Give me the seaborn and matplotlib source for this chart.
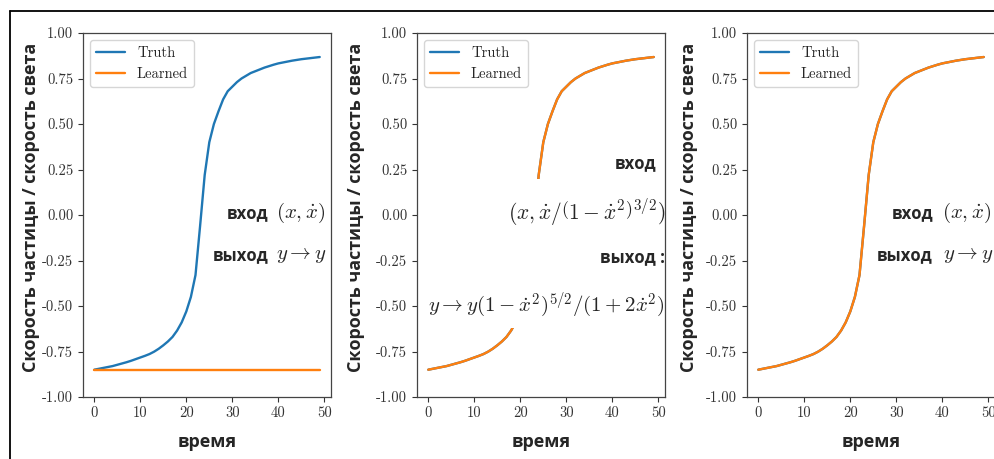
import matplotlib
matplotlib.use('Agg')
import matplotlib.pyplot as plt
import seaborn as sns
from matplotlib.patches import Rectangle
from matplotlib.lines import Line2D
from matplotlib.ticker import FormatStrFormatter

# ---- data ----
time = list(range(50))
truth = [
    -0.850, -0.845, -0.840, -0.835, -0.830, -0.823, -0.816, -0.809, -0.801, -0.792,
    -0.783, -0.774, -0.764, -0.751, -0.735, -0.716, -0.695, -0.670, -0.635, -0.590,
    -0.530, -0.450, -0.330, -0.060, 0.220, 0.400, 0.500, 0.570, 0.635, 0.680,
    0.705, 0.730, 0.750, 0.765, 0.780, 0.790, 0.800, 0.810, 0.818, 0.826,
    0.833, 0.838, 0.843, 0.848, 0.852, 0.856, 0.859, 0.862, 0.865, 0.868,
]
learned_bad = [
    -0.85, -0.85, -0.85, -0.85, -0.85, -0.85, -0.85, -0.85, -0.85, -0.85,
    -0.85, -0.85, -0.85, -0.85, -0.85, -0.85, -0.85, -0.85, -0.85, -0.85,
    -0.85, -0.85, -0.85, -0.85, -0.85, -0.85, -0.85, -0.85, -0.85, -0.85,
    -0.85, -0.85, -0.85, -0.85, -0.85, -0.85, -0.85, -0.85, -0.85, -0.85,
    -0.85, -0.85, -0.85, -0.85, -0.85, -0.85, -0.85, -0.85, -0.85, -0.85,
]
learned_good = list(truth)  # learned curve sits on top of the truth

y_ticks = [-1.0, -0.75, -0.5, -0.25, 0.0, 0.25, 0.5, 0.75, 1.0]
x_ticks = [0, 10, 20, 30, 40, 50]
y_label = 'Скорость частицы / скорость света'
x_label = 'время'

sns.set_style('ticks')
plt.rcParams['font.family'] = ['cmr10', 'DejaVu Serif']
plt.rcParams['mathtext.fontset'] = 'cm'
plt.rcParams['axes.unicode_minus'] = False

label_font = dict(family='Open Sans', weight='bold')

fig = plt.figure(figsize=(9.95, 4.59), dpi=100)

# axes boxes in pixels: left, width (top=33, bottom=397)
boxes = [(83, 248), (417, 248), (747, 248)]
ylab_x = [-0.172, -0.211, -0.196]
axes = []
for (left, width), lx in zip(boxes, ylab_x):
    ax = fig.add_axes([left / 995, (459 - 397) / 459, width / 995, 364 / 459])
    axes.append(ax)

learned_sets = [learned_bad, learned_good, learned_good]
for ax, learned, lx in zip(axes, learned_sets, ylab_x):
    sns.lineplot(x=time, y=truth, ax=ax, color='#1f77b4', lw=1.7, label='Truth')
    sns.lineplot(x=time, y=learned, ax=ax, color='#ff7f0e', lw=1.7, label='Learned')
    ax.set_xlim(-2.45, 51.45)
    ax.set_ylim(-1.0, 1.0)
    ax.set_yticks(y_ticks)
    ax.set_xticks(x_ticks)
    ax.yaxis.set_major_formatter(FormatStrFormatter('%.2f'))
    ax.tick_params(labelsize=10.5, length=3.5, width=0.8, colors='#333333')
    for sp in ax.spines.values():
        sp.set_color('#444444')
        sp.set_linewidth(0.9)
    ax.set_ylabel(y_label, fontsize=13, **label_font)
    ax.set_xlabel(x_label, fontsize=13, **label_font)
    ax.yaxis.set_label_coords(lx, 0.522)
    ax.xaxis.set_label_coords(0.5, -0.1)
    ax.legend(loc='upper left', prop={'family': 'cmr10', 'size': 10.5})

# annotations, left and right panels
for ax, pos in [(axes[0], (0.748, 0.78, 0.748, 0.78)),
                (axes[2], (0.75, 0.786, 0.75, 0.79))]:
    ax.text(pos[0], 0.505, 'вход', ha='right', va='center', fontsize=12,
            transform=ax.transAxes, **label_font)
    ax.text(pos[1], 0.505, r'$(x,\dot{x})$', ha='left', va='center', fontsize=15,
            transform=ax.transAxes)
    ax.text(pos[2], 0.39, 'выход', ha='right', va='center', fontsize=12,
            transform=ax.transAxes, **label_font)
    ax.text(pos[3], 0.39, r'$y\to y$', ha='left', va='center', fontsize=15,
            transform=ax.transAxes)

# middle panel: white patch over the curve, then the longer formulas
ax = axes[1]
ax.add_patch(Rectangle((0.05, 0.19), 0.95, 0.41, transform=ax.transAxes,
                       facecolor='white', edgecolor='none', zorder=2.5))
ax.text(0.967, 0.643, 'вход', ha='right', va='center', fontsize=12,
        transform=ax.transAxes, zorder=3, **label_font)
ax.text(1.0, 0.505, r'$(x,\dot{x}/\left(1-\dot{x}^2\right)^{3/2})$', ha='right',
        va='center', fontsize=15.5, transform=ax.transAxes, zorder=3)
ax.text(1.0, 0.385, 'выход :', ha='right', va='center', fontsize=12,
        transform=ax.transAxes, zorder=3, **label_font)
ax.text(1.0, 0.253, r'$y\to y(1-\dot{x}^2)^{5/2}/(1+2\dot{x}^2)$', ha='right',
        va='center', fontsize=15, transform=ax.transAxes, zorder=3)

# screenshot frame lines (top and left)
fig.add_artist(Line2D([10 / 995, 1.0], [1 - 11 / 459, 1 - 11 / 459],
                      color='black', lw=1.3, transform=fig.transFigure))
fig.add_artist(Line2D([10 / 995, 10 / 995], [0.0, 1 - 11 / 459],
                      color='black', lw=1.3, transform=fig.transFigure))

fig.savefig('out.png', dpi=100, facecolor='white')
